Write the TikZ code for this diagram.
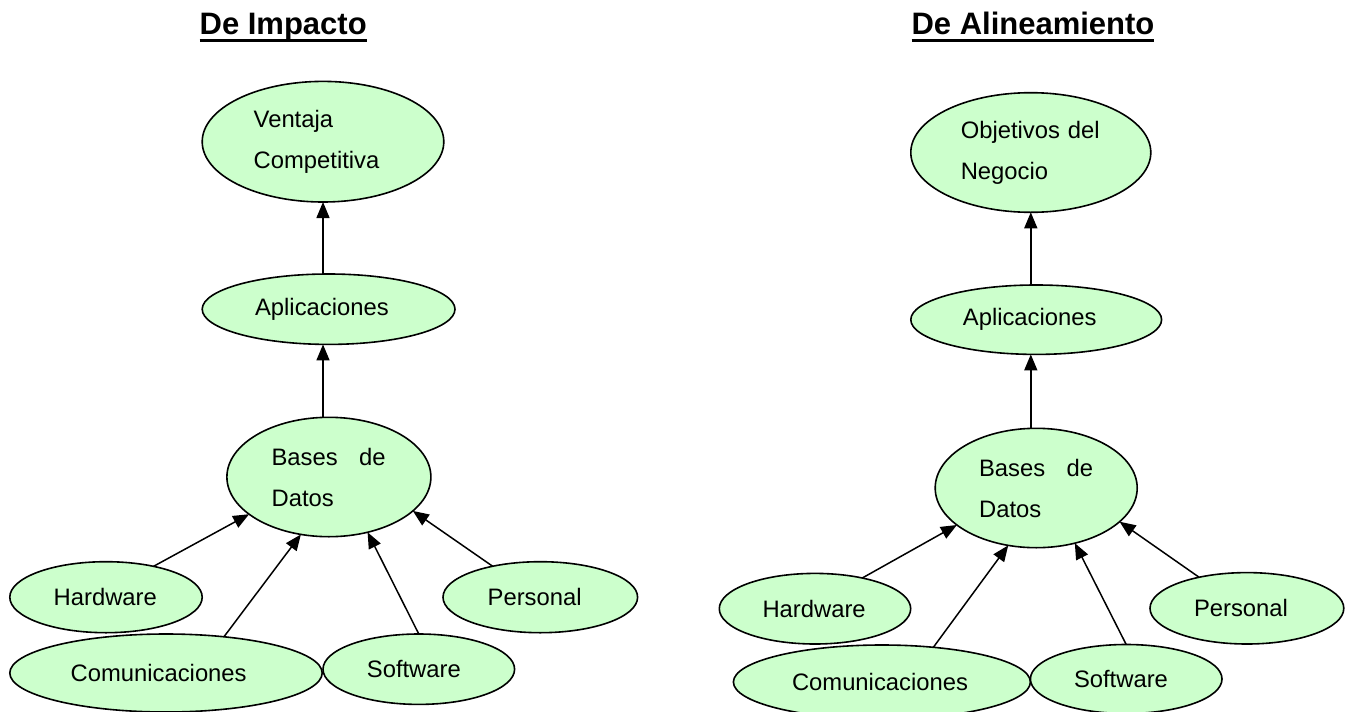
\documentclass[tikz,border=0pt]{standalone}
\usepackage{fontspec}
\setmainfont{Liberation Sans}
\usetikzlibrary{arrows.meta,shapes.geometric}
\definecolor{ovalfill}{HTML}{CCFFCC}

\begin{document}
\begin{tikzpicture}[x=1pt,y=-1pt,
  oval/.style={ellipse, draw, line width=1.6pt, fill=ovalfill, inner sep=0pt,
    outer sep=0pt, align=left, font=\fontsize{23.8}{41}\selectfont},
  ovalsize/.style n args={3}{minimum width=#1, minimum height=#2, text width=#3},
  link/.style={line width=1.5pt, -{Triangle[length=16pt,width=13pt]}},
  heading/.style={font=\fontsize{31}{36}\selectfont\bfseries, inner sep=0pt,
    outer sep=0pt, anchor=base},
]
\fill[white] (0,0) rectangle (1352,712);
\useasboundingbox (0,0) rectangle (1352,712);

% ---------- left column: De Impacto ----------
\node[heading] (tA) at (283.2,34.5) {De Impacto};
\draw[line width=2.4pt] ([yshift=-6pt]tA.base west) -- ([yshift=-6pt]tA.base east);

\node[oval, ovalsize={241.6pt}{120.6pt}{138.6pt}] (vtA) at (323,141.7) {Ventaja\\Competitiva};
\node[oval, ovalsize={252.8pt}{70.4pt}{147pt}] (apA) at (328.6,309.2) {Aplicaciones};
\node[oval, ovalsize={204pt}{119.4pt}{114.6pt}] (dbA) at (328.9,477) {\makebox[114pt][l]{Bases\hfill de}\\Datos};
\node[oval, ovalsize={192.4pt}{71pt}{104.6pt}] (hwA) at (106,597.2) {Hardware};
\node[oval, ovalsize={312.4pt}{78pt}{190.6pt}] (coA) at (166,673) {Comunicaciones};
\node[oval, ovalsize={191.6pt}{70.4pt}{103.8pt}] (swA) at (418.8,669.2) {Software};
\node[oval, ovalsize={194.6pt}{71pt}{105.2pt}] (peA) at (540.3,597.2) {Personal};

\draw[link] (vtA.south |- apA.north) -- (vtA.south);
\draw[link] (vtA.south |- dbA.north) -- (vtA.south |- apA.south);
\draw[link] (hwA.33) -- (dbA.205);
\draw[link] (coA.32) -- (dbA.244);
\draw[link] (swA.90) -- (dbA.305);
\draw[link] (peA.147) -- (dbA.338);

% ---------- right column: De Alineamiento ----------
\node[heading] (tB) at (1033,34.5) {De Alineamiento};
\draw[line width=2.4pt] ([yshift=-6pt]tB.base west) -- ([yshift=-6pt]tB.base east);

\node[oval, ovalsize={240pt}{119.6pt}{140pt}] (vtB) at (1030.8,152.5) {Objetivos del\\Negocio};
\node[oval, ovalsize={250.8pt}{69.4pt}{146.6pt}] (apB) at (1036.2,319.7) {Aplicaciones};
\node[oval, ovalsize={202pt}{119.4pt}{114.2pt}] (dbB) at (1036.2,488) {\makebox[114pt][l]{Bases\hfill de}\\Datos};
\node[oval, ovalsize={191.4pt}{70.6pt}{105pt}] (hwB) at (815,608.7) {Hardware};
\node[oval, ovalsize={297pt}{74pt}{179.8pt}] (coB) at (881.9,682) {Comunicaciones};
\node[oval, ovalsize={191.6pt}{69pt}{104.4pt}] (swB) at (1126.2,679) {Software};
\node[oval, ovalsize={193.8pt}{71.4pt}{105.8pt}] (peB) at (1246.9,608.3) {Personal};

\draw[link] (vtB.south |- apB.north) -- (vtB.south);
\draw[link] (vtB.south |- dbB.north) -- (vtB.south |- apB.south);
\draw[link] (hwB.33) -- (dbB.205);
\draw[link] (coB.34) -- (dbB.244);
\draw[link] (swB.90) -- (dbB.305);
\draw[link] (peB.147) -- (dbB.338);
\end{tikzpicture}
\end{document}
